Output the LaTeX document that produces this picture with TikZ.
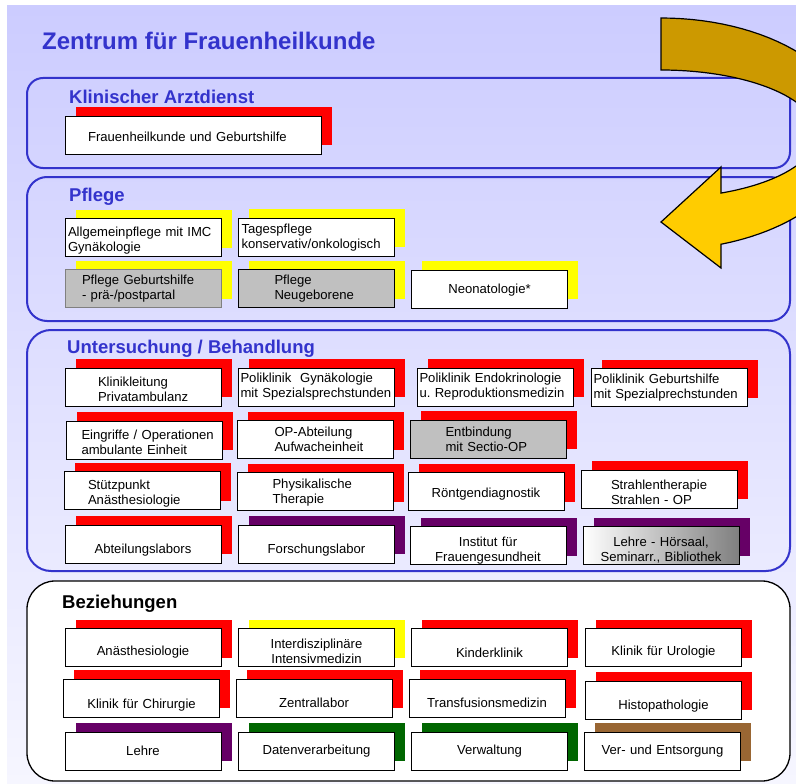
\documentclass[tikz,border=0pt]{standalone}
\usepackage{fontspec}
\setmainfont{Liberation Sans}
\usetikzlibrary{shadows}
\frenchspacing

\definecolor{zblue}{HTML}{3333CC}
\definecolor{bgtop}{HTML}{CCCCFF}
\definecolor{bgbot}{HTML}{F6F6FF}
\definecolor{sred}{HTML}{FF0000}
\definecolor{syellow}{HTML}{FFFF00}
\definecolor{spurple}{HTML}{660066}
\definecolor{sgreen}{HTML}{006600}
\definecolor{sbrown}{HTML}{996633}
\definecolor{boxgray}{HTML}{C0C0C0}
\definecolor{golddark}{HTML}{CC9900}
\definecolor{goldlight}{HTML}{FFCC00}

\begin{document}
\begin{tikzpicture}[x=1pt, y=-1pt,
    unit/.style={draw=black, line width=0.9pt, fill=white, minimum width=156pt,
      minimum height=38pt, text width=152pt, inner xsep=2pt, inner ysep=0pt,
      align=center, font=\fontsize{13.1}{15}\selectfont},
    sh/.style={drop shadow={shadow xshift=10.5pt, shadow yshift=9pt, fill=#1,
      opacity=1, draw=none}},
    ind/.style={align=left, execute at begin node={\leftskip=#1pt\relax}},
    dn/.style={text height={9.6+2*#1}},
    grey/.style={fill=boxgray},
    frame/.style={draw=zblue, line width=2pt},
    head/.style={anchor=base west, inner sep=0pt, text=zblue,
      font=\fontsize{18.5}{22}\selectfont\bfseries}]

    % page and background
    \useasboundingbox (0,0) rectangle (796,784);
    \shade[top color=bgtop, bottom color=bgbot] (7,6) rectangle (796,784);

    % title
    \node[head, font=\fontsize{24}{28}\selectfont\bfseries] (title) at (42,50)
      {Zentrum für Frauenheilkunde};

    % Klinischer Arztdienst
    \draw[frame, rounded corners=16pt] (27,78) rectangle (790,168);
    \node[head] (arzt) at (69,103) {Klinischer Arztdienst};
    \node[unit, sh=sred, minimum width=256pt, text width=252pt, ind=21, dn=2] (fgh)
      at (193,135) {Frauenheilkunde und Geburtshilfe};

    % Pflege
    \draw[frame, rounded corners=20pt] (27,177) rectangle (790,321);
    \node[head] (pflege) at (69,201) {Pflege};
    \node[unit, sh=syellow, ind=1, dn=3] (allg) at (143,237.5)
      {Allgemeinpflege mit IMC\\Gynäkologie};
    \node[unit, sh=syellow, ind=1, dn=1] (tages) at (316.5,237)
      {Tagespflege\\konservativ/onkologisch};
    \node[unit, sh=syellow, grey, draw=gray, ind=15] (pgeb) at (143,288.5)
      {Pflege Geburtshilfe\\- prä-/postpartal};
    \node[unit, sh=syellow, grey, ind=34] (pneu) at (316.5,288.5)
      {Pflege\\Neugeborene};
    \node[unit, sh=syellow, dn=1] (neo) at (489.5,289) {Neonatologie*};

    % Untersuchung / Behandlung
    \draw[frame, rounded corners=24pt] (27,330) rectangle (790,571);
    \node[head] (unters) at (67,353) {Untersuchung / Behandlung};
    \node[unit, sh=sred, ind=31, dn=2] (leit) at (143,387)
      {Klinikleitung\\Privatambulanz};
    \node[unit, sh=sred, ind=0] (pgyn) at (316.5,387)
      {Poliklinik\ \ Gynäkologie\\mit Spezialsprechstunden};
    \node[unit, sh=sred, ind=0] (pendo) at (495.5,387)
      {Poliklinik Endokrinologie\\u. Reproduktionsmedizin};
    \node[unit, sh=sred, ind=0] (pgebh) at (669.5,387.5)
      {Poliklinik Geburtshilfe\\mit Spezialprechstunden};
    \node[unit, sh=sred, ind=13, dn=2] (eingr) at (144.5,440)
      {Eingriffe / Operationen\\ambulante Einheit};
    \node[unit, sh=sred, ind=35] (opab) at (315.5,439.5)
      {OP-Abteilung\\Aufwacheinheit};
    \node[unit, sh=sred, grey, ind=33] (entb) at (488.5,439)
      {Entbindung\\mit Sectio-OP};
    \node[unit, sh=sred, ind=22, dn=3] (stuetz) at (142,490.5)
      {Stützpunkt\\Anästhesiologie};
    \node[unit, sh=sred, ind=33, dn=1] (physik) at (315.5,491.5)
      {Physikalische\\Therapie};
    \node[unit, sh=sred, dn=2.5] (roent) at (486,491.5) {Röntgendiagnostik};
    \node[unit, sh=sred, ind=28, dn=3] (strahl) at (659,489)
      {Strahlentherapie\\Strahlen - OP};
    \node[unit, sh=sred, dn=6] (abtl) at (143,544) {Abteilungslabors};
    \node[unit, sh=spurple, dn=6] (forsch) at (316.5,544) {Forschungslabor};
    \node[unit, sh=spurple, dn=5] (inst) at (488,545.5)
      {Institut für\\Frauengesundheit};
    \node[unit, sh=spurple, left color=white, right color=gray, dn=5] (hoers)
      at (661,545.5) {Lehre - Hörsaal,\\Seminarr., Bibliothek};

    % Beziehungen
    \draw[line width=1.3pt, fill=white, rounded corners=28pt] (27,581) rectangle (790,781);
    \node[head, text=black] (bez) at (62,608) {Beziehungen};
    \node[unit, sh=sred, dn=5] (anae) at (143,647.5) {Anästhesiologie};
    \node[unit, sh=syellow, dn=3.5] (intens) at (316.5,647.5)
      {Interdisziplinäre\\Intensivmedizin};
    \node[unit, sh=sred, dn=5] (kinder) at (489.5,647.5) {Kinderklinik};
    \node[unit, sh=sred, dn=5] (uro) at (663.5,647.5) {Klinik für Urologie};
    \node[unit, sh=sred, dn=7] (chir) at (141.5,698) {Klinik für Chirurgie};
    \node[unit, sh=sred, dn=5] (zlab) at (314,698) {Zentrallabor};
    \node[unit, sh=sred, dn=5] (transf) at (487,698) {Transfusionsmedizin};
    \node[unit, sh=sred, dn=6] (histo) at (663.5,700) {Histopathologie};
    \node[unit, sh=spurple] (lehre) at (143,751) {Lehre};
    \node[unit, sh=sgreen] (edv) at (316.5,751) {Datenverarbeitung};
    \node[unit, sh=sgreen] (verw) at (489.5,751) {Verwaltung};
    \node[unit, sh=sbrown] (verent) at (662.5,751) {Ver- und Entsorgung};

    % curved arrow, running out of the page on the right
    \begin{scope}
      \clip (7,6) rectangle (796,784);
      \filldraw[fill=golddark, draw=black, line width=1.2pt]
        plot[domain=90:0, samples=30] ({661+193*cos(\x)},{134-116*sin(\x)})
        -- plot[domain=0:90, samples=30] ({661+156*cos(\x)},{134-64*sin(\x)})
        -- cycle;
      \filldraw[fill=goldlight, draw=black, line width=1.2pt]
        plot[domain=0:-71.89, samples=30] ({661+193*cos(\x)},{134-116*sin(\x)})
        -- (721,268) -- (661,222) -- (721,167)
        -- plot[domain=-67.38:0, samples=30] ({661+156*cos(\x)},{134-64*sin(\x)})
        -- cycle;
    \end{scope}
\end{tikzpicture}
\end{document}
